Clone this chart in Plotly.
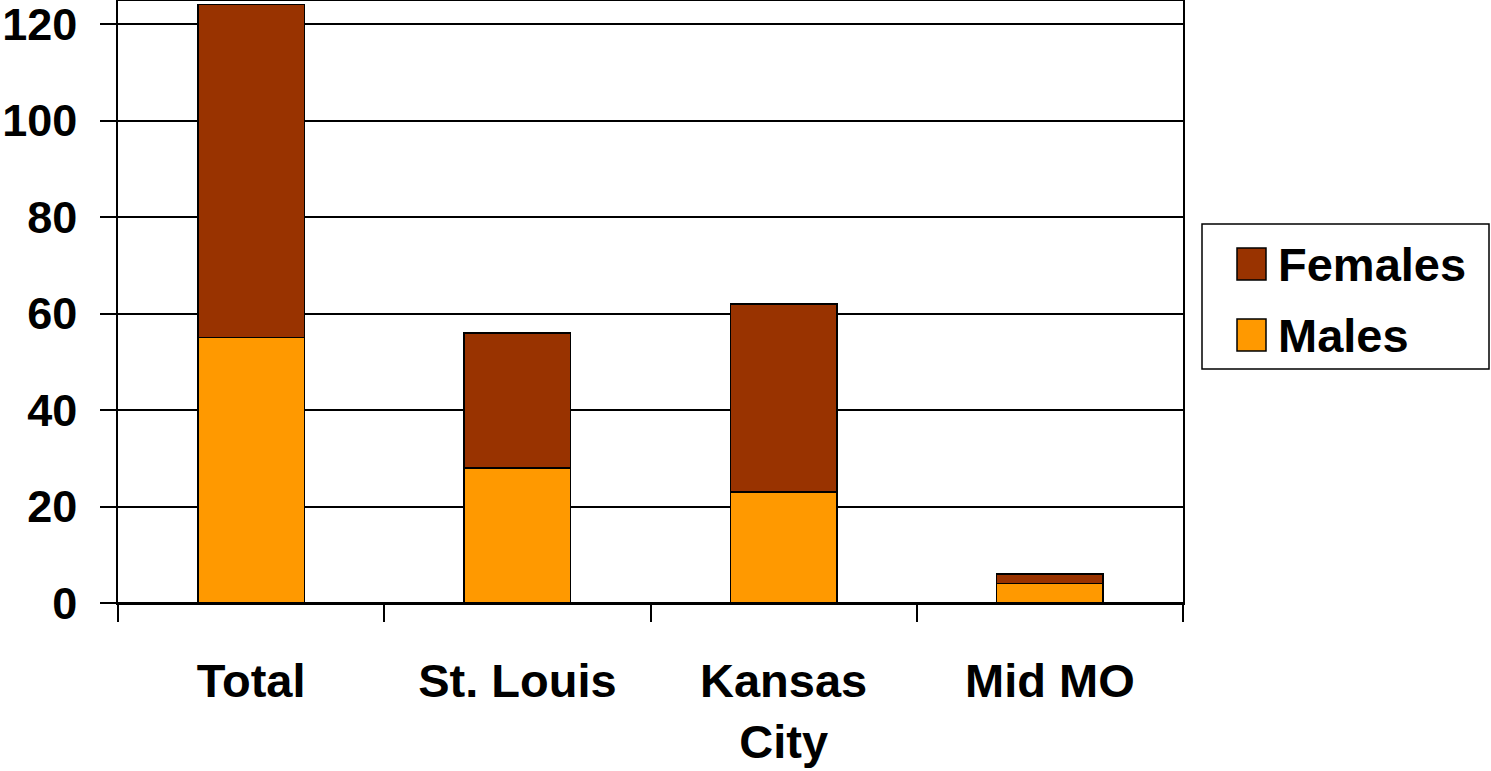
import plotly.graph_objects as go

categories = ["Total", "St. Louis", "Kansas<br>City", "Mid MO"]
males = [55, 28, 23, 4]
females = [69, 28, 39, 2]
series_names = ["Females", "Males"]
colors = {"Females": "#993300", "Males": "#FF9900"}
y_ticks = [0, 20, 40, 60, 80, 100, 120]

FONT = "Liberation Sans, Arial, sans-serif"
FS = 47
W, H = 1491, 771
L, R, T, B = 118, 308, 1, 168
PW, PH = W - L - R, H - T - B

fig = go.Figure()
fig.add_bar(x=categories, y=males, name="Males", marker=dict(color=colors["Males"], line=dict(color="black", width=1.5)), width=0.4, showlegend=False)
fig.add_bar(x=categories, y=females, name="Females", marker=dict(color=colors["Females"], line=dict(color="black", width=1.5)), width=0.4, showlegend=False)

def px2paper(x, y):
    return (x - L) / PW, (H - B - y) / PH

shapes = []
annotations = []
# legend box
x0, y0 = px2paper(1202, 369)
x1, y1 = px2paper(1489, 224)
shapes.append(dict(type="rect", xref="paper", yref="paper", x0=x0, y0=y0, x1=x1, y1=y1,
                   line=dict(color="black", width=1.5), fillcolor="white", layer="above"))
sw = {"Females": (248, 280), "Males": (319, 351)}
for name in series_names:
    top, bot = sw[name]
    a0, b0 = px2paper(1237, bot)
    a1, b1 = px2paper(1266, top)
    shapes.append(dict(type="rect", xref="paper", yref="paper", x0=a0, y0=b0, x1=a1, y1=b1,
                       line=dict(color="black", width=1.5), fillcolor=colors[name], layer="above"))
    tx, ty = px2paper(1276, (top + bot) / 2)
    annotations.append(dict(xref="paper", yref="paper", x=tx, y=ty, xanchor="left", yanchor="middle",
                            text=f"<b>{name}</b>", showarrow=False,
                            font=dict(family=FONT, size=FS, color="black")))

fig.update_layout(
    width=W, height=H,
    margin=dict(l=L, r=R, t=T, b=B, autoexpand=False),
    barmode="stack",
    plot_bgcolor="white", paper_bgcolor="white",
    showlegend=False,
    font=dict(family=FONT, size=FS, color="black"),
    shapes=shapes, annotations=annotations,
)
fig.update_xaxes(
    type="category", tickson="boundaries", ticks="outside", ticklen=17, tickwidth=1.5, tickcolor="black",
    showline=True, linecolor="black", linewidth=1.5, mirror=True, automargin=False,
    tickfont=dict(family=FONT, size=FS, color="black", weight="bold"),
    ticklabelstandoff=36, showgrid=False, ticklabeloverflow="allow",
)
fig.update_yaxes(
    range=[0, PH / 4.825], tickvals=y_ticks, ticks="outside", ticklen=16, tickwidth=1.5, tickcolor="black",
    showline=True, linecolor="black", linewidth=1.5, mirror=True, automargin=False,
    showgrid=True, gridcolor="black", gridwidth=1.5, zeroline=True, zerolinecolor="black", zerolinewidth=1.5,
    tickfont=dict(family=FONT, size=45, color="black", weight="bold"),
    ticklabelstandoff=14, ticklabeloverflow="allow",
)
fig.write_html("out.html", config={"displayModeBar": False},
               post_script="document.body.style.margin='0';document.body.style.overflow='hidden';")
